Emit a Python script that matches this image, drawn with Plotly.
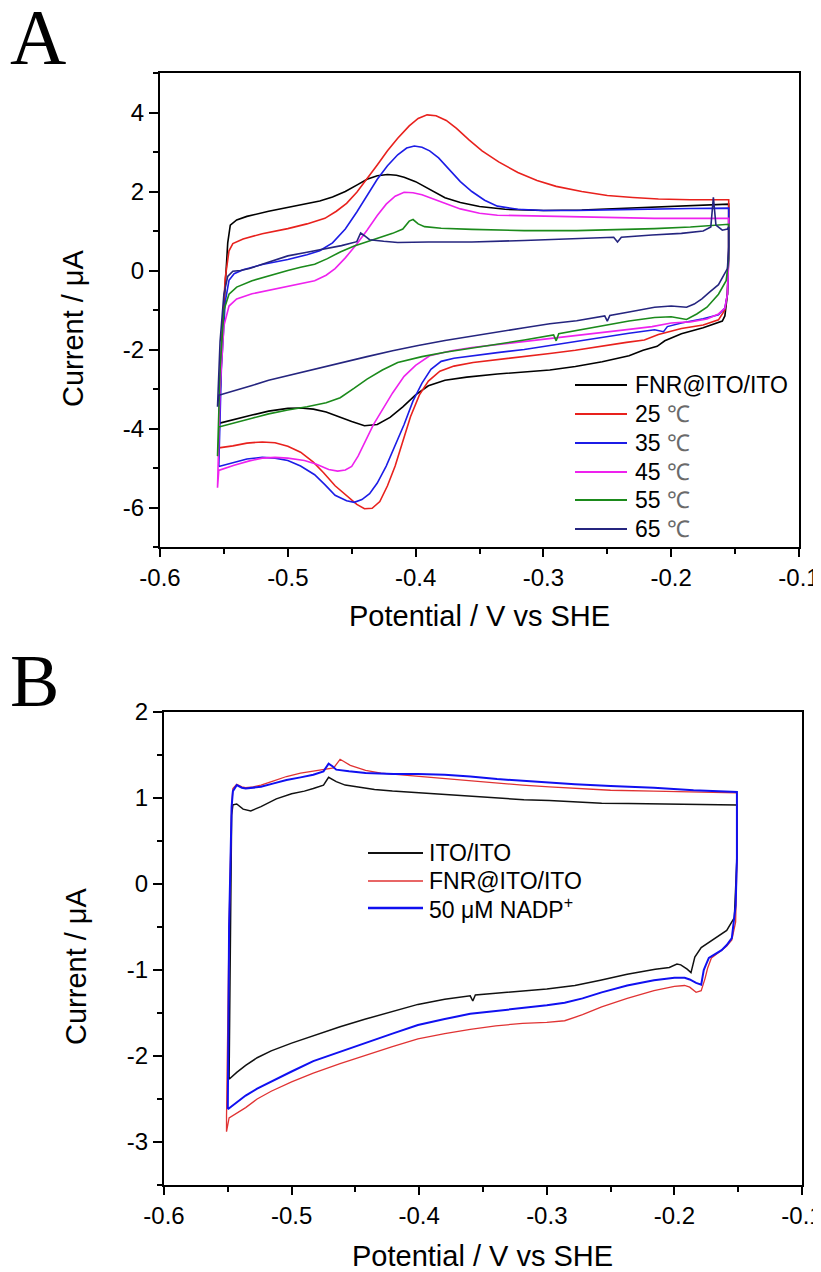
import plotly.graph_objects as go

# ---------------- Panel A data (Potential V vs SHE, Current uA) ----------------
a_fnr_x = [-0.554, -0.551, -0.547, -0.545, -0.540, -0.532, -0.515, -0.500, -0.487, -0.475, -0.465, -0.455,
           -0.445, -0.438, -0.430, -0.422, -0.415, -0.409, -0.400, -0.390, -0.377, -0.365, -0.350, -0.330,
           -0.300, -0.270, -0.240, -0.210, -0.180, -0.155, -0.155, -0.156, -0.158, -0.160, -0.175, -0.192,
           -0.205, -0.211, -0.222, -0.233, -0.254, -0.275, -0.295, -0.315, -0.336, -0.360, -0.377, -0.390,
           -0.400, -0.410, -0.420, -0.430, -0.440, -0.450, -0.460, -0.470, -0.480, -0.490, -0.500, -0.515,
           -0.528, -0.540, -0.554]
a_fnr_y = [-3.87, -1.5, 0.7, 1.15, 1.28, 1.37, 1.50, 1.60, 1.68, 1.76, 1.86, 2.00,
           2.18, 2.31, 2.40, 2.43, 2.41, 2.36, 2.25, 2.08, 1.84, 1.72, 1.62, 1.55,
           1.52, 1.53, 1.57, 1.62, 1.65, 1.68, 0.5, -0.6, -1.15, -1.28, -1.45, -1.60,
           -1.78, -1.92, -2.02, -2.16, -2.31, -2.43, -2.52, -2.57, -2.62, -2.70, -2.78, -2.92,
           -3.15, -3.45, -3.72, -3.90, -3.93, -3.82, -3.70, -3.58, -3.51, -3.48, -3.49, -3.56,
           -3.66, -3.76, -3.87]

a_25_x = [-0.554, -0.552, -0.549, -0.546, -0.543, -0.535, -0.520, -0.500, -0.485, -0.471, -0.462, -0.454,
          -0.446, -0.438, -0.430, -0.422, -0.414, -0.405, -0.398, -0.391, -0.384, -0.376, -0.368, -0.358,
          -0.348, -0.335, -0.320, -0.305, -0.290, -0.270, -0.250, -0.230, -0.210, -0.185, -0.155, -0.155,
          -0.156, -0.158, -0.163, -0.175, -0.192, -0.210, -0.221, -0.235, -0.254, -0.275, -0.295, -0.315,
          -0.336, -0.355, -0.370, -0.381, -0.390, -0.397, -0.404, -0.410, -0.416, -0.422, -0.428, -0.434,
          -0.440, -0.446, -0.455, -0.463, -0.472, -0.480, -0.490, -0.500, -0.510, -0.520, -0.532, -0.543,
          -0.554]
a_25_y = [-4.49, -2.0, -0.2, 0.5, 0.68, 0.80, 0.93, 1.06, 1.18, 1.32, 1.50, 1.70,
          1.98, 2.31, 2.67, 3.03, 3.35, 3.66, 3.85, 3.94, 3.92, 3.80, 3.60, 3.30,
          3.03, 2.75, 2.48, 2.28, 2.13, 2.00, 1.90, 1.85, 1.81, 1.79, 1.79, 0.5,
          -0.6, -1.0, -1.25, -1.38, -1.47, -1.62, -1.76, -1.82, -1.92, -2.02, -2.10, -2.18,
          -2.26, -2.33, -2.42, -2.55, -2.80, -3.15, -3.70, -4.30, -4.95, -5.45, -5.85, -6.02,
          -6.03, -5.92, -5.68, -5.45, -5.12, -4.85, -4.60, -4.45, -4.36, -4.34, -4.37, -4.44,
          -4.49]

a_35_x = [-0.554, -0.552, -0.549, -0.546, -0.542, -0.535, -0.520, -0.500, -0.485, -0.475, -0.465, -0.455,
          -0.446, -0.438, -0.430, -0.422, -0.414, -0.407, -0.401, -0.395, -0.389, -0.382, -0.374, -0.365,
          -0.356, -0.346, -0.336, -0.320, -0.300, -0.274, -0.240, -0.213, -0.185, -0.155, -0.155, -0.156,
          -0.158, -0.163, -0.175, -0.192, -0.203, -0.206, -0.213, -0.233, -0.254, -0.274, -0.295, -0.315,
          -0.336, -0.356, -0.370, -0.380, -0.388, -0.395, -0.402, -0.409, -0.416, -0.423, -0.430, -0.436,
          -0.442, -0.448, -0.454, -0.463, -0.471, -0.479, -0.490, -0.500, -0.510, -0.520, -0.532, -0.543,
          -0.554]
a_35_y = [-4.96, -2.5, -0.8, -0.25, -0.08, 0.02, 0.15, 0.28, 0.40, 0.50, 0.70, 1.05,
          1.48, 1.90, 2.31, 2.65, 2.93, 3.10, 3.15, 3.12, 3.03, 2.85, 2.58, 2.25,
          2.00, 1.78, 1.63, 1.55, 1.52, 1.52, 1.54, 1.56, 1.57, 1.58, 0.4, -0.6,
          -0.95, -1.12, -1.22, -1.33, -1.42, -1.55, -1.50, -1.59, -1.70, -1.79, -1.90, -2.00,
          -2.08, -2.16, -2.22, -2.30, -2.50, -2.85, -3.30, -3.90, -4.45, -4.95, -5.38, -5.65,
          -5.80, -5.87, -5.83, -5.69, -5.42, -5.17, -4.95, -4.81, -4.75, -4.73, -4.77, -4.86,
          -4.96]

a_45_x = [-0.554, -0.555, -0.553, -0.550, -0.546, -0.540, -0.528, -0.515, -0.500, -0.487, -0.479, -0.470,
          -0.463, -0.455, -0.446, -0.438, -0.430, -0.423, -0.416, -0.409, -0.402, -0.395, -0.385, -0.375,
          -0.365, -0.350, -0.336, -0.310, -0.274, -0.240, -0.213, -0.185, -0.155, -0.155, -0.156, -0.158,
          -0.163, -0.172, -0.185, -0.200, -0.215, -0.233, -0.254, -0.274, -0.295, -0.315, -0.336, -0.356,
          -0.372, -0.389, -0.400, -0.409, -0.418, -0.426, -0.433, -0.439, -0.445, -0.450, -0.455, -0.461,
          -0.468, -0.478, -0.487, -0.500, -0.510, -0.520, -0.530, -0.542, -0.554]
a_45_y = [-5.06, -5.5, -3.0, -1.4, -0.90, -0.72, -0.59, -0.50, -0.41, -0.32, -0.26, -0.12,
          0.05, 0.32, 0.67, 1.02, 1.39, 1.68, 1.88, 1.98, 1.97, 1.92, 1.81, 1.68,
          1.56, 1.45, 1.40, 1.38, 1.37, 1.34, 1.32, 1.32, 1.32, 0.3, -0.6, -0.95,
          -1.10, -1.23, -1.30, -1.33, -1.42, -1.49, -1.57, -1.64, -1.72, -1.79, -1.87, -1.95,
          -2.03, -2.16, -2.40, -2.68, -3.10, -3.51, -3.90, -4.30, -4.70, -4.96, -5.05, -5.08,
          -5.04, -4.90, -4.81, -4.75, -4.73, -4.75, -4.82, -4.93, -5.06]

a_55_x = [-0.554, -0.555, -0.553, -0.550, -0.546, -0.540, -0.528, -0.515, -0.500, -0.490, -0.479, -0.469,
          -0.459, -0.448, -0.438, -0.428, -0.418, -0.410, -0.405, -0.402, -0.398, -0.393, -0.380, -0.356,
          -0.315, -0.274, -0.240, -0.213, -0.185, -0.155, -0.155, -0.157, -0.163, -0.172, -0.180, -0.188,
          -0.200, -0.213, -0.233, -0.254, -0.274, -0.288, -0.290, -0.292, -0.315, -0.336, -0.356, -0.377,
          -0.395, -0.414, -0.426, -0.438, -0.448, -0.459, -0.470, -0.485, -0.500, -0.515, -0.528, -0.540,
          -0.554]
a_55_y = [-3.96, -4.7, -2.5, -1.0, -0.60, -0.42, -0.26, -0.13, 0.00, 0.08, 0.16, 0.30,
          0.47, 0.62, 0.73, 0.85, 0.94, 1.05, 1.25, 1.29, 1.18, 1.11, 1.07, 1.04,
          1.01, 1.01, 1.03, 1.06, 1.10, 1.17, 0.3, -0.26, -0.60, -0.93, -1.10, -1.24,
          -1.17, -1.19, -1.28, -1.40, -1.52, -1.60, -1.78, -1.63, -1.76, -1.86, -1.96, -2.07,
          -2.18, -2.33, -2.52, -2.75, -2.98, -3.22, -3.35, -3.45, -3.53, -3.63, -3.74, -3.85,
          -3.96]

a_65_x = [-0.554, -0.555, -0.553, -0.550, -0.547, -0.543, -0.537, -0.530, -0.520, -0.510, -0.500, -0.485,
          -0.471, -0.458, -0.446, -0.443, -0.440, -0.436, -0.425, -0.414, -0.390, -0.356, -0.315, -0.274,
          -0.245, -0.242, -0.239, -0.215, -0.192, -0.175, -0.169, -0.167, -0.165, -0.160, -0.156, -0.155,
          -0.155, -0.156, -0.160, -0.163, -0.170, -0.176, -0.182, -0.188, -0.200, -0.213, -0.233, -0.248,
          -0.250, -0.252, -0.274, -0.295, -0.315, -0.336, -0.356, -0.377, -0.398, -0.418, -0.438, -0.459,
          -0.480, -0.500, -0.515, -0.528, -0.540, -0.554]
a_65_y = [-3.16, -3.45, -1.8, -0.6, -0.15, -0.02, 0.00, 0.05, 0.16, 0.27, 0.37, 0.46,
          0.54, 0.63, 0.73, 0.95, 0.88, 0.78, 0.74, 0.71, 0.72, 0.72, 0.76, 0.80,
          0.84, 0.72, 0.84, 0.90, 0.94, 1.00, 1.10, 1.85, 1.15, 1.02, 1.05, 1.10,
          0.60, 0.05, -0.20, -0.36, -0.55, -0.72, -0.85, -0.93, -0.90, -0.93, -1.05, -1.14,
          -1.28, -1.15, -1.27, -1.35, -1.45, -1.56, -1.66, -1.77, -1.90, -2.03, -2.18, -2.34,
          -2.50, -2.65, -2.78, -2.91, -3.03, -3.16]

a_names = ["FNR@ITO/ITO", "25 ℃", "35 ℃", "45 ℃", "55 ℃", "65 ℃"]
a_colors = ["#000000", "#e8211d", "#1c1ce6", "#ee22ee", "#1b8a1b", "#25257f"]

# ---------------- Panel B data ----------------
b_ito_x = [-0.549, -0.548, -0.547, -0.546, -0.543, -0.538, -0.532, -0.524, -0.512, -0.500, -0.490, -0.483,
           -0.475, -0.471, -0.465, -0.458, -0.450, -0.435, -0.421, -0.400, -0.380, -0.360, -0.339, -0.318,
           -0.298, -0.278, -0.257, -0.236, -0.216, -0.190, -0.170, -0.151, -0.151, -0.152, -0.153, -0.159,
           -0.166, -0.171, -0.179, -0.184, -0.187, -0.190, -0.195, -0.198, -0.204, -0.215, -0.237, -0.258,
           -0.278, -0.300, -0.319, -0.340, -0.356, -0.358, -0.360, -0.380, -0.401, -0.421, -0.442, -0.462,
           -0.483, -0.500, -0.516, -0.527, -0.536, -0.543, -0.549]
b_ito_y = [-2.27, -0.5, 0.80, 0.92, 0.93, 0.87, 0.85, 0.90, 0.99, 1.05, 1.08, 1.11,
           1.15, 1.24, 1.19, 1.15, 1.13, 1.10, 1.08, 1.06, 1.04, 1.02, 1.00, 0.98,
           0.97, 0.955, 0.94, 0.935, 0.93, 0.925, 0.92, 0.92, 0.3, -0.16, -0.39, -0.54,
           -0.61, -0.66, -0.74, -0.85, -1.03, -0.99, -0.94, -0.93, -0.97, -0.99, -1.05, -1.12,
           -1.18, -1.22, -1.24, -1.27, -1.29, -1.36, -1.30, -1.34, -1.40, -1.48, -1.57, -1.66,
           -1.76, -1.85, -1.94, -2.02, -2.11, -2.19, -2.27]

b_fnr_x = [-0.551, -0.551, -0.549, -0.547, -0.546, -0.543, -0.539, -0.536, -0.530, -0.524, -0.514, -0.504,
           -0.493, -0.483, -0.475, -0.467, -0.462, -0.458, -0.454, -0.448, -0.442, -0.430, -0.415, -0.401,
           -0.380, -0.360, -0.339, -0.319, -0.298, -0.278, -0.250, -0.216, -0.185, -0.151, -0.151, -0.152,
           -0.155, -0.159, -0.163, -0.168, -0.171, -0.174, -0.176, -0.179, -0.183, -0.188, -0.192, -0.200,
           -0.216, -0.237, -0.257, -0.272, -0.286, -0.300, -0.319, -0.340, -0.360, -0.380, -0.401, -0.421,
           -0.442, -0.462, -0.483, -0.500, -0.516, -0.527, -0.536, -0.543, -0.549, -0.551]
b_fnr_y = [-2.88, -2.70, -0.5, 0.9, 1.11, 1.16, 1.13, 1.12, 1.13, 1.15, 1.20, 1.25,
           1.29, 1.31, 1.33, 1.35, 1.45, 1.41, 1.38, 1.35, 1.32, 1.29, 1.27, 1.26,
           1.23, 1.20, 1.17, 1.15, 1.13, 1.11, 1.09, 1.08, 1.07, 1.06, 0.3, -0.44,
           -0.65, -0.72, -0.77, -0.82, -0.86, -0.98, -1.10, -1.24, -1.26, -1.20, -1.18, -1.19,
           -1.24, -1.33, -1.43, -1.52, -1.59, -1.61, -1.62, -1.65, -1.69, -1.74, -1.80, -1.89,
           -1.99, -2.09, -2.20, -2.30, -2.41, -2.50, -2.60, -2.67, -2.72, -2.88]

b_nadp_x = [-0.550, -0.549, -0.547, -0.546, -0.543, -0.539, -0.536, -0.530, -0.524, -0.514, -0.504, -0.493,
            -0.483, -0.475, -0.471, -0.468, -0.465, -0.455, -0.442, -0.420, -0.401, -0.380, -0.360, -0.339,
            -0.319, -0.298, -0.278, -0.250, -0.216, -0.185, -0.151, -0.151, -0.152, -0.155, -0.159, -0.163,
            -0.168, -0.173, -0.175, -0.177, -0.179, -0.183, -0.188, -0.192, -0.200, -0.216, -0.237, -0.257,
            -0.272, -0.286, -0.300, -0.319, -0.340, -0.360, -0.380, -0.401, -0.421, -0.442, -0.462, -0.483,
            -0.500, -0.516, -0.527, -0.536, -0.543, -0.549, -0.550]
b_nadp_y = [-2.62, -0.5, 0.9, 1.08, 1.15, 1.12, 1.11, 1.12, 1.13, 1.17, 1.21, 1.24,
            1.27, 1.31, 1.40, 1.37, 1.33, 1.31, 1.29, 1.28, 1.28, 1.27, 1.25, 1.22,
            1.20, 1.18, 1.16, 1.14, 1.12, 1.09, 1.07, 0.3, -0.25, -0.63, -0.71, -0.77,
            -0.82, -0.86, -0.93, -1.00, -1.17, -1.15, -1.11, -1.09, -1.09, -1.12, -1.18, -1.26,
            -1.33, -1.38, -1.41, -1.44, -1.47, -1.51, -1.57, -1.64, -1.74, -1.85, -1.95, -2.06,
            -2.18, -2.30, -2.38, -2.46, -2.54, -2.61, -2.62]

b_names = ["ITO/ITO", "FNR@ITO/ITO", "50 μM NADP<sup>+</sup>"]
b_colors = ["#111111", "#e03333", "#1010f0"]
b_widths = [1.5, 1.3, 2.0]

x_ticks = [-0.6, -0.5, -0.4, -0.3, -0.2, -0.1]
x_ticktext = ["-0.6", "-0.5", "-0.4", "-0.3", "-0.2", "-0.1"]
x_minor = [-0.55, -0.45, -0.35, -0.25, -0.15]
a_y_ticks = [-6, -4, -2, 0, 2, 4]
a_y_ticktext = ["-6", "-4", "-2", "0", "2", "4"]
a_y_minor = [-7, -5, -3, -1, 1, 3, 5]
b_y_ticks = [-3, -2, -1, 0, 1, 2]
b_y_ticktext = ["-3", "-2", "-1", "0", "1", "2"]
b_y_minor = [-3.5, -2.5, -1.5, -0.5, 0.5, 1.5]

W, H = 821, 1272
OFF = 8  # page body offset of the plot div
FONT = "Liberation Sans, Arial, sans-serif"
SERIF = "Liberation Serif, Times New Roman, serif"


def px(v):
    return (v - OFF) / W


def py(v):
    return 1 - (v - OFF) / H


fig = go.Figure()

a_series = [(a_fnr_x, a_fnr_y), (a_25_x, a_25_y), (a_35_x, a_35_y),
            (a_45_x, a_45_y), (a_55_x, a_55_y), (a_65_x, a_65_y)]
for (xs, ys), name, col in zip(a_series, a_names, a_colors):
    fig.add_trace(go.Scatter(x=xs, y=ys, mode="lines", name=name,
                             line=dict(color=col, width=1.6),
                             xaxis="x", yaxis="y", showlegend=False))

b_series = [(b_ito_x, b_ito_y), (b_fnr_x, b_fnr_y), (b_nadp_x, b_nadp_y)]
for (xs, ys), name, col, w in zip(b_series, b_names, b_colors, b_widths):
    fig.add_trace(go.Scatter(x=xs, y=ys, mode="lines", name=name,
                             line=dict(color=col, width=w),
                             xaxis="x2", yaxis="y2", showlegend=False))


def xaxis(domain, anchor):
    return dict(domain=domain, anchor=anchor, range=[-0.6, -0.1],
                tickvals=x_ticks, ticktext=x_ticktext, ticks="outside", ticklen=8,
                tickwidth=1.6, tickcolor="black", showline=True, linecolor="black",
                linewidth=2, mirror=True, showgrid=False, zeroline=False,
                tickfont=dict(family=FONT, size=24, color="black"),
                minor=dict(tickvals=x_minor, ticks="outside", ticklen=5,
                           tickwidth=1.6, tickcolor="black", showgrid=False))


def yaxis(domain, anchor, rng, tv, tt, mv):
    return dict(domain=domain, anchor=anchor, range=rng,
                tickvals=tv, ticktext=tt, ticks="outside", ticklen=9,
                tickwidth=1.6, tickcolor="black", showline=True, linecolor="black",
                linewidth=2, mirror=True, showgrid=False, zeroline=False,
                tickfont=dict(family=FONT, size=24, color="black"),
                minor=dict(tickvals=mv, ticks="outside", ticklen=5,
                           tickwidth=1.6, tickcolor="black", showgrid=False))


# legend rows (manual legend: sample line + label)
a_leg_rows = [385, 414, 443, 472, 500, 529]
b_leg_rows = [853, 881, 908]

shapes = []
annotations = []
for name, col, row in zip(a_names, a_colors, a_leg_rows):
    shapes.append(dict(type="line", xref="paper", yref="paper",
                       x0=px(575), x1=px(627), y0=py(row), y1=py(row),
                       line=dict(color=col, width=1.8)))
    if "℃" in name:
        label = name.split(" ")[0] + " <span style='color:#6a6a6a'>℃</span>"
    else:
        label = name
    annotations.append(dict(text=label, x=px(633), y=py(row), xref="paper", yref="paper",
                            xanchor="left", yanchor="middle", showarrow=False,
                            font=dict(family=FONT, size=23, color="black")))
for name, col, w, row in zip(b_names, b_colors, b_widths, b_leg_rows):
    shapes.append(dict(type="line", xref="paper", yref="paper",
                       x0=px(368), x1=px(423), y0=py(row), y1=py(row),
                       line=dict(color=col, width=w + 0.3)))
    annotations.append(dict(text=name, x=px(427), y=py(row), xref="paper", yref="paper",
                            xanchor="left", yanchor="middle", showarrow=False,
                            font=dict(family=FONT, size=23, color="black")))

annotations += [
    dict(text="A", x=px(8), y=py(37), xref="paper", yref="paper", xanchor="left",
         yanchor="middle", showarrow=False, font=dict(family=SERIF, size=78, color="black")),
    dict(text="B", x=px(8), y=py(681), xref="paper", yref="paper", xanchor="left",
         yanchor="middle", showarrow=False, font=dict(family=SERIF, size=74, color="black")),
    dict(text="Current / μA", x=px(73), y=py(328), xref="paper", yref="paper",
         textangle=-90, showarrow=False, xanchor="center", yanchor="middle",
         font=dict(family=FONT, size=29, color="black")),
    dict(text="Potential / V vs SHE", x=px(479.5), y=py(616), xref="paper", yref="paper",
         showarrow=False, xanchor="center", yanchor="middle",
         font=dict(family=FONT, size=29, color="black")),
    dict(text="Current / μA", x=px(76), y=py(966), xref="paper", yref="paper",
         textangle=-90, showarrow=False, xanchor="center", yanchor="middle",
         font=dict(family=FONT, size=29, color="black")),
    dict(text="Potential / V vs SHE", x=px(483), y=py(1256), xref="paper", yref="paper",
         showarrow=False, xanchor="center", yanchor="middle",
         font=dict(family=FONT, size=29, color="black")),
]

fig.update_layout(
    width=W, height=H, margin=dict(l=0, r=0, t=0, b=0, autoexpand=False),
    paper_bgcolor="white", plot_bgcolor="white",
    showlegend=False,
    xaxis=xaxis([px(160), px(799)], "y"),
    yaxis=yaxis([py(547), py(73)], "x", [-7, 5], a_y_ticks, a_y_ticktext, a_y_minor),
    xaxis2=xaxis([px(164), px(802)], "y2"),
    yaxis2=yaxis([py(1185), py(712)], "x2", [-3.5, 2], b_y_ticks, b_y_ticktext, b_y_minor),
    shapes=shapes,
    annotations=annotations,
)

fig.write_html("out.html")
